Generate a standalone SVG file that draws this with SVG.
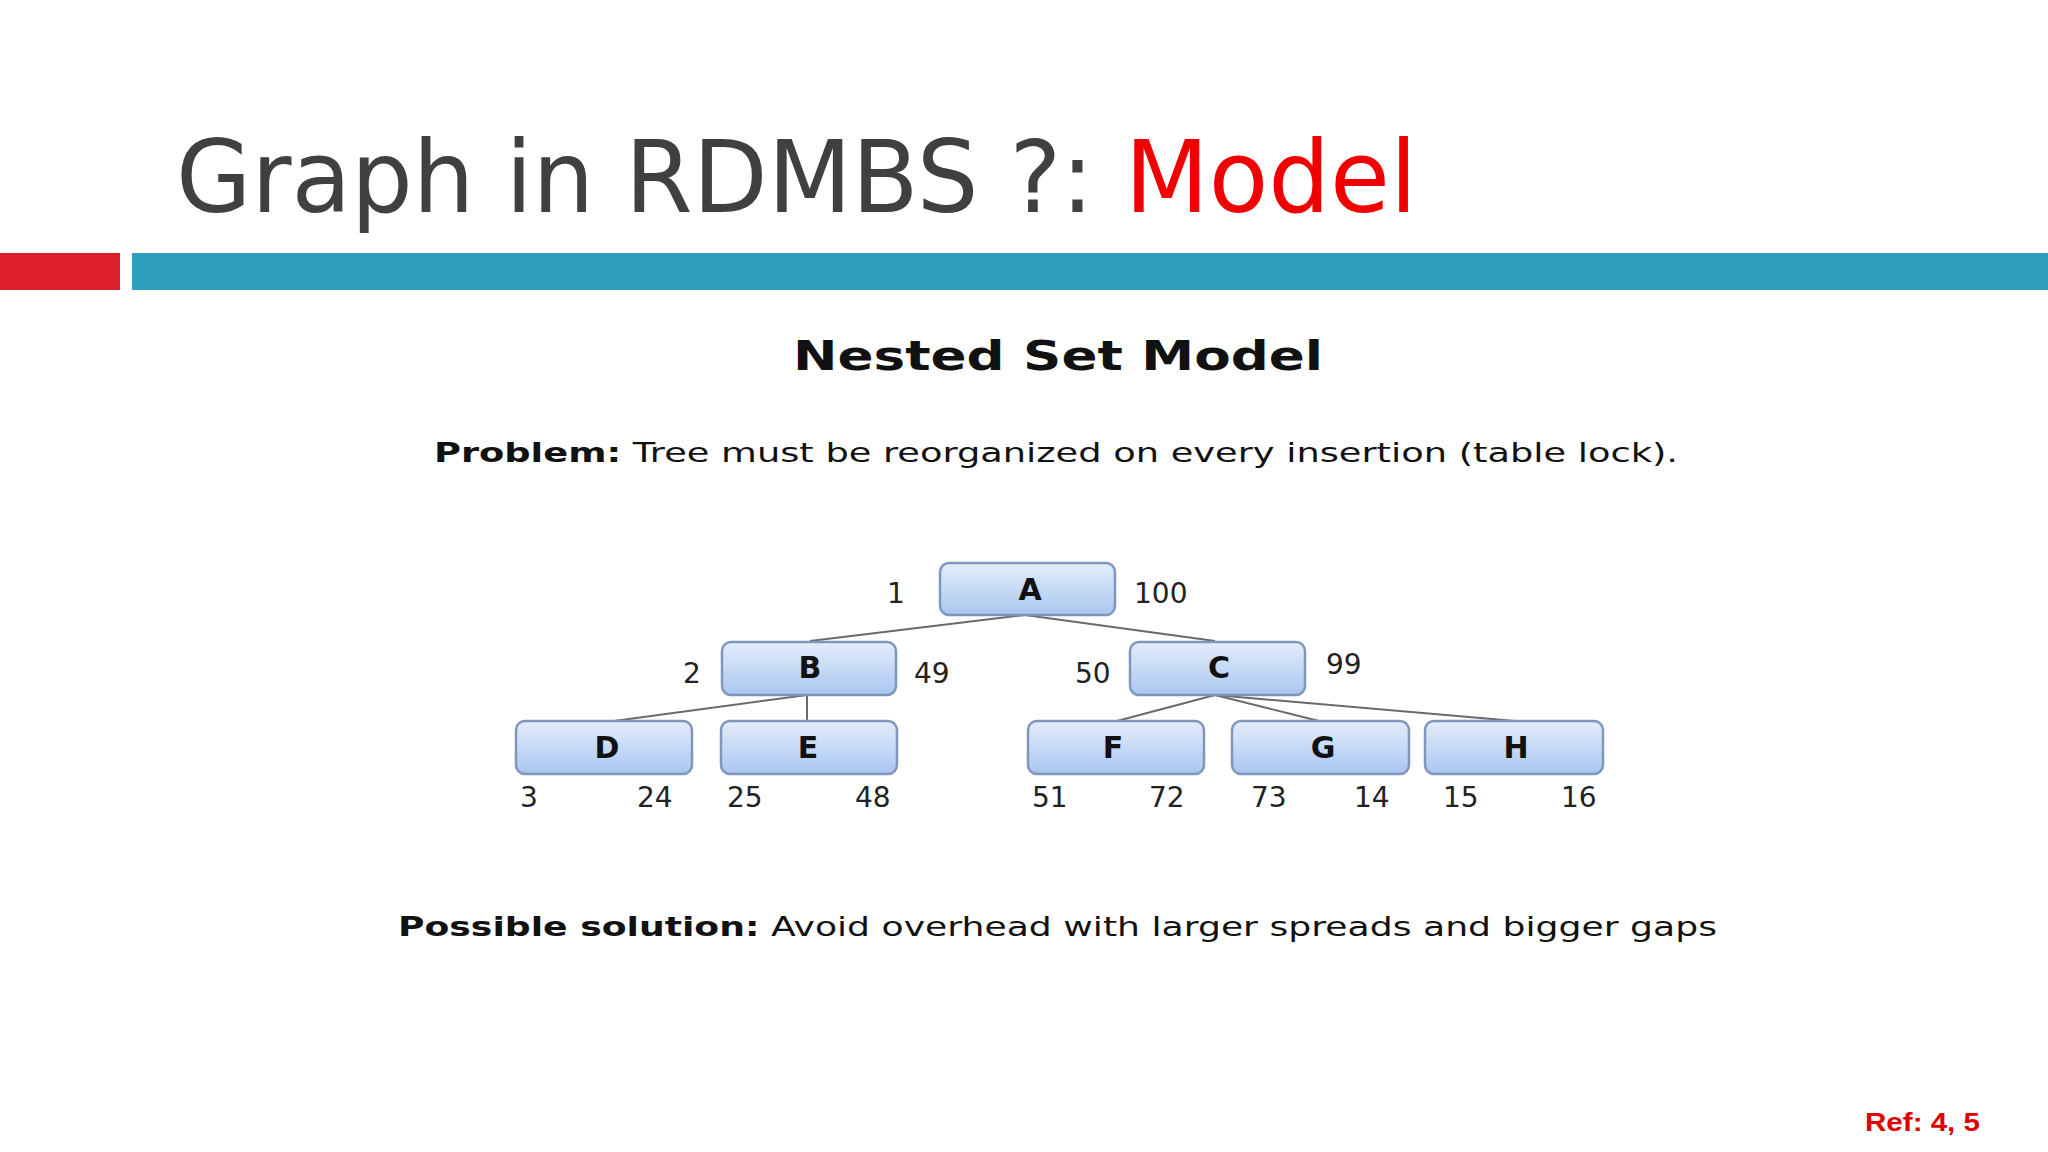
<svg xmlns="http://www.w3.org/2000/svg" width="2048" height="1152" viewBox="0 0 2048 1152">
<defs>
<linearGradient id="g" x1="0" y1="0" x2="0" y2="1"><stop offset="0" stop-color="#e4edfb"/><stop offset="1" stop-color="#a9c6f0"/></linearGradient>
<style>
.n rect{fill:url(#g);stroke:#7f97bd;stroke-width:2.5}
.n text{font:bold 30px "DejaVu Sans",sans-serif;fill:#111;text-anchor:middle}
.num{font:28px "DejaVu Sans",sans-serif;fill:#222}
.e line{stroke:#6a6a6a;stroke-width:2}
</style>
</defs>
<rect width="2048" height="1152" fill="#fff"/>
<text x="176" y="212" font-family="'DejaVu Sans',sans-serif" font-size="100" fill="#404040" textLength="1241" lengthAdjust="spacingAndGlyphs">Graph in RDMBS ?: <tspan fill="#f00000">Model</tspan></text>
<rect x="0" y="253" width="120" height="37" fill="#dd1f2c"/>
<rect x="132" y="253" width="1916" height="37" fill="#2e9fbf"/>
<text x="793" y="370" font-family="'DejaVu Sans',sans-serif" font-weight="bold" font-size="40" fill="#111" textLength="530" lengthAdjust="spacingAndGlyphs">Nested Set Model</text>
<text x="434" y="462" font-family="'DejaVu Sans',sans-serif" font-size="27" fill="#111" textLength="1244" lengthAdjust="spacingAndGlyphs"><tspan font-weight="bold">Problem:</tspan> Tree must be reorganized on every insertion (table lock).</text>
<g id="connectors" class="e">
<line x1="1025" y1="615" x2="810" y2="641"/><line x1="1025" y1="615" x2="1215" y2="641"/>
<line x1="807" y1="695" x2="614" y2="721"/><line x1="807" y1="695" x2="807" y2="721"/>
<line x1="1215" y1="695" x2="1117" y2="721"/><line x1="1215" y1="695" x2="1319" y2="721"/><line x1="1215" y1="695" x2="1515" y2="721"/>
</g>
<g id="A" class="n"><rect x="940" y="563" width="175" height="52" rx="9"/><text x="1030" y="600">A</text></g>
<g id="B" class="n"><rect x="722" y="642" width="174" height="53" rx="9"/><text x="810" y="678">B</text></g>
<g id="C" class="n"><rect x="1130" y="642" width="175" height="53" rx="9"/><text x="1219" y="678">C</text></g>
<g id="D" class="n"><rect x="516" y="721" width="176" height="53" rx="9"/><text x="607" y="758">D</text></g>
<g id="E" class="n"><rect x="721" y="721" width="176" height="53" rx="9"/><text x="808" y="758">E</text></g>
<g id="F" class="n"><rect x="1028" y="721" width="176" height="53" rx="9"/><text x="1113" y="758">F</text></g>
<g id="G" class="n"><rect x="1232" y="721" width="177" height="53" rx="9"/><text x="1323" y="758">G</text></g>
<g id="H" class="n"><rect x="1425" y="721" width="178" height="53" rx="9"/><text x="1516" y="758">H</text></g>
<g class="num">
<text x="887" y="603">1</text><text x="1134" y="603">100</text>
<text x="683" y="683">2</text><text x="914" y="683">49</text><text x="1075" y="683">50</text><text x="1326" y="674">99</text>
<text x="520" y="807">3</text><text x="637" y="807">24</text><text x="727" y="807">25</text><text x="855" y="807">48</text>
<text x="1032" y="807">51</text><text x="1149" y="807">72</text><text x="1251" y="807">73</text><text x="1354" y="807">14</text><text x="1443" y="807">15</text><text x="1561" y="807">16</text>
</g>
<text x="398" y="936" font-family="'DejaVu Sans',sans-serif" font-size="27" fill="#111" textLength="1319" lengthAdjust="spacingAndGlyphs"><tspan font-weight="bold">Possible solution:</tspan> Avoid overhead with larger spreads and bigger gaps</text>
<text x="1865" y="1131" font-family="'Liberation Sans',sans-serif" font-weight="bold" font-size="25" fill="#e00000" textLength="115" lengthAdjust="spacingAndGlyphs">Ref:  4, 5</text>
</svg>
